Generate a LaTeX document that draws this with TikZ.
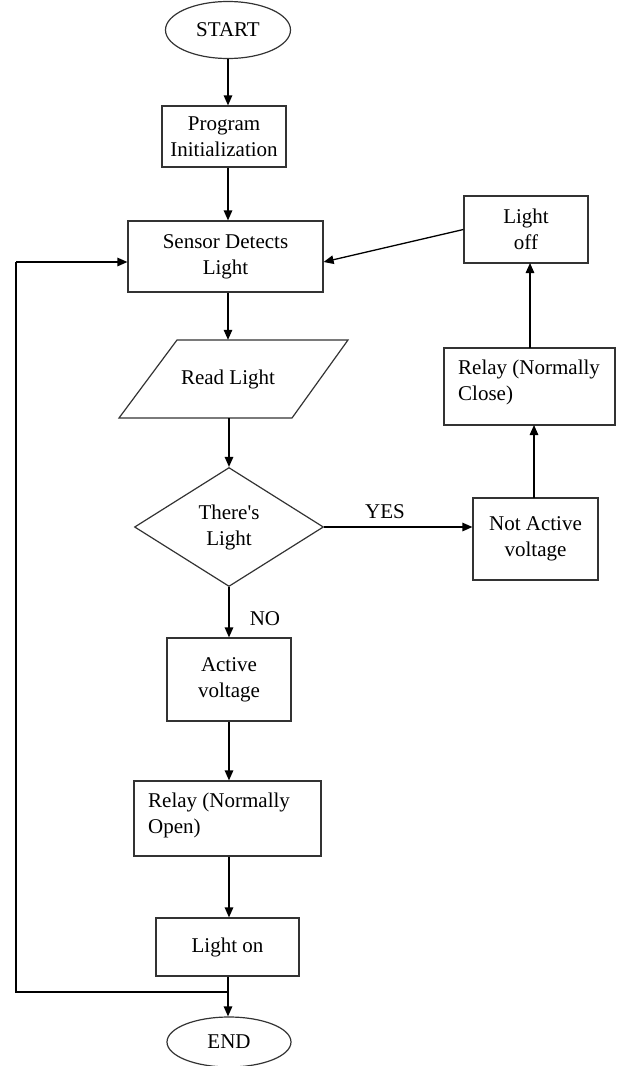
\documentclass[tikz,border=0pt]{standalone}
\usepackage{fontspec}
\setmainfont{Liberation Serif}
\usetikzlibrary{shapes.geometric,arrows.meta}
\begin{document}
\begin{tikzpicture}[x=1pt,y=-1pt,
  every node/.style={font=\fontsize{21}{26}\selectfont, inner sep=0pt},
  box/.style={draw=black!80, line width=1.2pt, rectangle, align=center},
  term/.style={draw=black!80, line width=1.2pt, ellipse},
  arr/.style={line width=1.3pt, -{Triangle[length=10pt,width=8.5pt]}},
  ln/.style={line width=1.3pt}]
\useasboundingbox (0,0) rectangle (619,1066);
% nodes
\node[term, minimum width=125, minimum height=57] (start) at (228,30) {START};
\node[box, minimum width=124, minimum height=61] (prog) at (224,136.5) {Program\\Initialization};
\node[box, minimum width=195, minimum height=71] (sensor) at (225.5,256.5) {Sensor Detects\\Light};
\draw[draw=black!80, line width=1.2pt] (177,340) -- (348,340) -- (292,418) -- (119,418) -- cycle;
\node[minimum height=78] (read) at (228,379) {Read Light};
\node[draw=black!80, line width=1.2pt, diamond, aspect=1.6, minimum width=189, minimum height=119, align=center] (dec) at (229,527) {There\textquotesingle s\\Light};
\node[box, minimum width=125, minimum height=82] (notact) at (535.5,539) {Not Active\\voltage};
\node[box, minimum width=171, minimum height=77] (relayc) at (529.5,386.5) {};
\node[anchor=west, align=left] (relayct) at (458,382) {Relay (Normally\\Close)};
\node[box, minimum width=124, minimum height=67] (lightoff) at (526,229.5) {Light\\off};
\node[box, minimum width=124, minimum height=83] (active) at (229,679.5) {Active\\voltage};
\node[box, minimum width=187, minimum height=75] (relayo) at (227.5,818.5) {};
\node[anchor=west, align=left] (relayot) at (148,815) {Relay (Normally\\Open)};
\node[box, minimum width=143, minimum height=58] (lighton) at (227.5,947) {Light on};
\node[term, minimum width=124, minimum height=50] (end) at (229,1042) {END};
\node (yes) at (385,512) {YES};
\node (no) at (265,619) {NO};
% coordinates
\coordinate (j) at (228,992);
\coordinate (lc) at (16,992);
\coordinate (lt) at (16,262);
% connectors
\draw[arr] (start.south) -- (start.south |- prog.north);
\draw[arr] (start.south |- prog.south) -- (start.south |- sensor.north);
\draw[arr] (start.south |- sensor.south) -- (start.south |- read.north);
\draw[arr] (dec.north |- read.south) -- (dec.north);
\draw[arr] (dec.east) -- (dec.east -| notact.west);
\draw[arr] (dec.south) -- (dec.south |- active.north);
\draw[arr] (active.south) -- (active.south |- relayo.north);
\draw[arr] (active.south |- relayo.south) -- (active.south |- lighton.north);
\draw[arr] (start.south |- lighton.south) -- (start.south |- end.north);
\draw[arr] (534,498) -- (534,425);
\draw[arr] (530,348) -- (530,263);
\draw[arr] (lightoff.west) -- (lt -| sensor.east);
\draw[ln] (j) -- (lc) -- (lt);
\draw[arr] (lt) -- (lt -| sensor.west);
\end{tikzpicture}
\end{document}
